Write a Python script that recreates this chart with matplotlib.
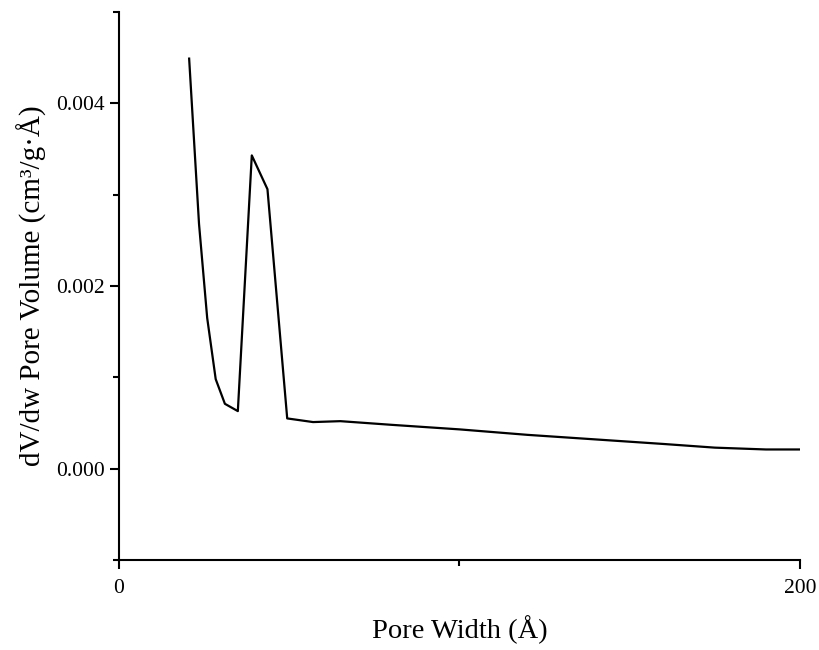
import numpy as np
import matplotlib.pyplot as plt
from matplotlib.ticker import MultipleLocator

plt.rcParams['font.family'] = ['Liberation Serif', 'DejaVu Serif']

# pore width (A) and dV/dw pore volume (cm3/g.A)
width = [20.6, 23.5, 25.9, 28.4, 31.1, 34.9, 39.0, 43.6, 49.4, 57.0, 65.0,
         80.0, 100.0, 120.0, 140.0, 160.0, 175.0, 190.0, 200.0]
volume = [0.00449, 0.00268, 0.00165, 0.00098, 0.00071, 0.00063, 0.00343,
          0.00306, 0.00055, 0.00051, 0.00052, 0.00048, 0.00043, 0.00037,
          0.00032, 0.00027, 0.00023, 0.00021, 0.00021]

fig = plt.figure(figsize=(8.19, 6.5), dpi=100)
ax = fig.add_axes([0.1453, 0.1385, 0.8315, 0.843])

ax.plot(width, volume, color='black', lw=1.6)

ax.set_xlim(0, 200)
ax.set_ylim(-0.001, 0.005)
ax.set_xticks([0, 200])
ax.xaxis.set_minor_locator(MultipleLocator(100))
ax.set_yticks([0.0, 0.002, 0.004])
ax.set_yticklabels(['0.000', '0.002', '0.004'])
ax.yaxis.set_minor_locator(MultipleLocator(0.001))

for s in ['top', 'right']:
    ax.spines[s].set_visible(False)
for s in ['left', 'bottom']:
    ax.spines[s].set_linewidth(1.5)

ax.tick_params(which='major', direction='out', length=6.5, width=1.5, labelsize=15.5)
ax.tick_params(which='minor', direction='out', length=4, width=1.5)
ax.tick_params(axis='x', pad=7)
ax.tick_params(axis='y', pad=4)

ax.set_xlabel('Pore Width (Å)', fontsize=20.5, labelpad=13)
ax.set_ylabel('dV/dw Pore Volume (cm³/g·Å)', fontsize=21, labelpad=6)

fig.savefig('out.png', dpi=100)
